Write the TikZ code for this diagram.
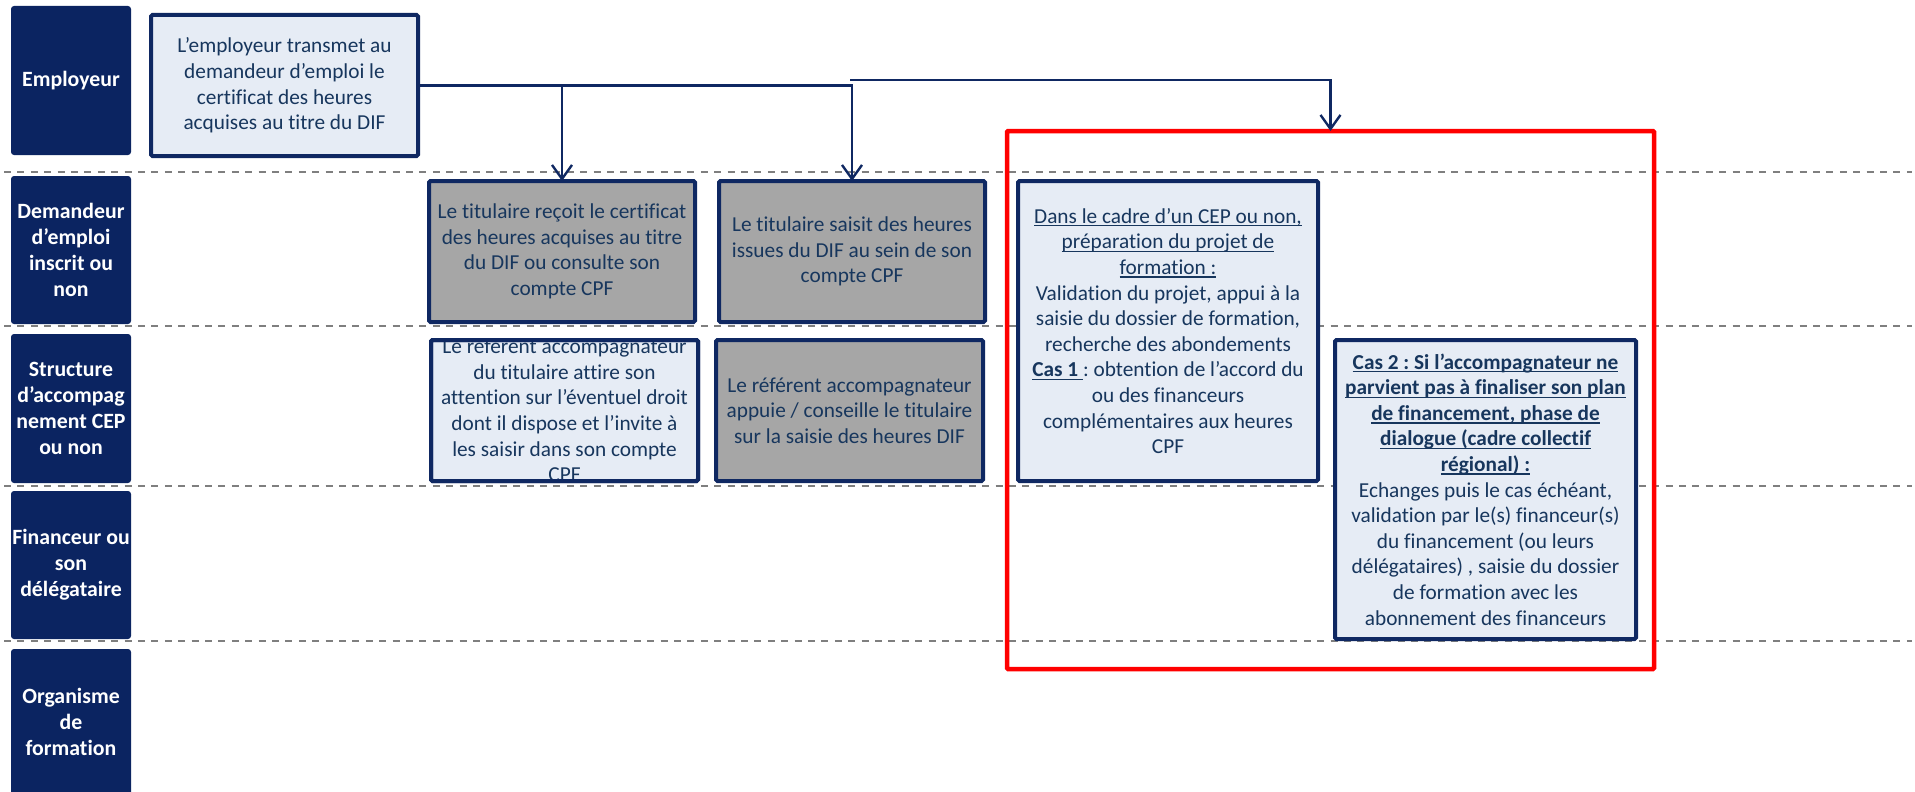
\documentclass[tikz,border=0pt]{standalone}
\usepackage{fontspec}
\setmainfont{Carlito}[Ligatures={NoCommon,NoRequired,NoContextual}]
\usepackage{tikz}
\usetikzlibrary{arrows.meta}
\frenchspacing

\newsavebox{\soulbox}
\newcommand{\souligne}[1]{\sbox{\soulbox}{#1}\rlap{\rule[-3.2pt]{\wd\soulbox}{1.3pt}}\usebox{\soulbox}}

\definecolor{marine}{HTML}{0B2461}
\definecolor{bordure}{HTML}{0F2862}
\definecolor{encre}{HTML}{17365D}
\definecolor{fondclair}{HTML}{E6ECF5}
\definecolor{fondgris}{HTML}{A6A6A6}
\definecolor{pointille}{HTML}{7F7F7F}

\tikzset{
    acteur/.style={fill=marine, rounded corners=3pt, text=white, align=center,
        font=\fontsize{21.8}{26}\selectfont\bfseries, minimum width=120pt, inner sep=0pt},
    etape/.style={draw=bordure, line width=4pt, rounded corners=1.5pt, text=encre, align=center,
        font=\fontsize{21.3}{25.6}\selectfont, inner sep=0pt, outer sep=0pt,
        minimum width=266pt, minimum height=141pt},
    boiteclaire/.style={etape, fill=fondclair},
    boitegrise/.style={etape, fill=fondgris},
    couloir/.style={draw=pointille, line width=2pt, dash pattern=on 7pt off 6.4pt},
    cadre/.style={draw=red, line width=4.5pt, rounded corners=1pt, outer sep=0pt},
    fleche/.style={draw=bordure, line width=2.4pt, -{Straight Barb[length=14pt,width=20pt]}}
}

\begin{document}
\begin{tikzpicture}[x=1pt, y=-1pt]
        \useasboundingbox (0,0) rectangle (1915,792);

        \foreach \y in {172, 326, 486, 641}{
                \draw[couloir] (4,\y) -- (1912,\y);
        }

        \foreach \y/\h/\nom [count=\i] in {
                80.5/149/{Employeur},
                250/148/{Demandeur\\d’emploi\\inscrit ou\\non},
                408.5/149/{Structure\\d’accompag\\nement CEP\\ou non},
                565/148/{Financeur ou\\son\\délégataire},
                722/146/{Organisme\\de\\formation}}{
                \node[acteur, minimum height=\h pt] (l\i) at (71,\y) {\nom};
        }

        \node[boiteclaire, minimum width=267pt] (emp) at (284.5,85.5)
                {L’employeur transmet au\\demandeur d’emploi le\\certificat des heures\\acquises au titre du DIF};

        \node[boitegrise] (recoit) at (562,251.5)
                {Le titulaire reçoit le certificat\\des heures acquises au titre\\du DIF ou consulte son\\compte CPF};
        \node[boitegrise] (saisit) at (852,251.5)
                {Le titulaire saisit des heures\\issues du DIF au sein de son\\compte CPF};

        \node[boiteclaire, minimum width=267pt] (attire) at (564.5,410.5) {};
        \node[etape, draw=none] (attiretxt) at (attire)
                {Le référent accompagnateur\\du titulaire attire son\\attention sur l’éventuel droit\\dont il dispose et l’invite à\\les saisir dans son compte\\CPF};
        \draw[draw=bordure, line width=4pt, rounded corners=1.5pt] (attire.north west) rectangle (attire.south east);

        \node[boitegrise, minimum width=267pt] (appuie) at (849.5,410.5)
                {Le référent accompagnateur\\appuie / conseille le titulaire\\sur la saisie des heures DIF};

        \node[boiteclaire, minimum width=300pt, minimum height=300pt] (prep) at (1168,331)
                {\souligne{Dans le cadre d’un CEP ou non,}\\\souligne{préparation du projet de}\\\souligne{formation :}\\
                Validation du projet, appui à la\\saisie du dossier de formation,\\recherche des abondements\\
                \souligne{\textbf{Cas 1 }}: obtention de l’accord du\\ou des financeurs\\complémentaires aux heures\\CPF};

        \node[boiteclaire, minimum width=301pt, minimum height=299pt] (cas2) at (1485.5,489.5)
                {\textbf{\souligne{Cas 2 : Si l’accompagnateur ne}}\\\textbf{\souligne{parvient pas à finaliser son plan}}\\
                \textbf{\souligne{de financement, phase de}}\\\textbf{\souligne{dialogue (cadre collectif}}\\\textbf{\souligne{régional) :}}\\
                Echanges puis le cas échéant,\\validation par le(s) financeur(s)\\du financement (ou leurs\\
                délégataires) , saisie du dossier\\de formation avec les\\abonnement des financeurs};

        \node[cadre, minimum width=647pt, minimum height=538pt] (cadre) at (1330.5,400) {};

        \draw[fleche] (emp.east) -| (recoit.north);
        \draw[fleche] (emp.east) -| (saisit.north);
        \coordinate (relais) at (850,80);
        \draw[fleche] (relais) -| (cadre.north);

    \end{tikzpicture}
\end{document}
